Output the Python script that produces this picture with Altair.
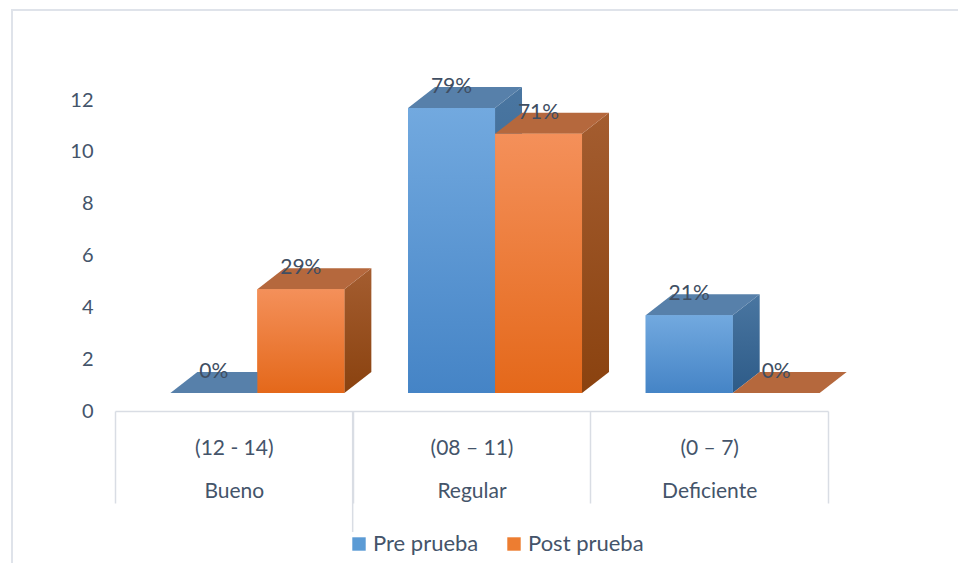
import altair as alt
import pandas as pd

# ---- data ----
categories = ["Bueno", "Regular", "Deficiente"]
ranges = ["(12 - 14)", "(08 – 11)", "(0 – 7)"]
series = ["Pre prueba", "Post prueba"]
pre_values = [0, 11, 3]
post_values = [4, 10, 0]
pre_labels = ["0%", "79%", "21%"]
post_labels = ["29%", "71%", "0%"]
y_ticks = [0, 2, 4, 6, 8, 10, 12]

# ---- 3D look (style constants, in scale units) ----
BAR_W = 0.366      # front face width
PRE_START = -0.267 # left edge of first bar relative to category index
DX = 0.1136        # depth shift to the right
DY = 0.81          # depth shift upwards

front_rows, top_rows, side_rows, label_rows = [], [], [], []
for s_idx, (s, vals, labs) in enumerate(zip(series, [pre_values, post_values], [pre_labels, post_labels])):
    for i, (c, v, lab) in enumerate(zip(categories, vals, labs)):
        x0 = i + PRE_START + s_idx * BAR_W
        x1 = x0 + BAR_W
        key = f"k{s_idx}{i}"
        front_rows.append(dict(series=s, cat=c, xl=x0, xr=x1, v=v, base=0))
        # top face as a vertical band: lower edge / upper edge along x
        top_rows += [
            dict(series=s, key=key, px=x0, hi=v, lo=v),
            dict(series=s, key=key, px=x0 + DX, hi=v + DY, lo=v),
            dict(series=s, key=key, px=x1, hi=v + DY, lo=v),
            dict(series=s, key=key, px=x1 + DX, hi=v + DY, lo=v + DY),
        ]
        side_rows += [
            dict(series=s, key=key, px=x1, hi=v, lo=0),
            dict(series=s, key=key, px=x1 + DX, hi=v + DY, lo=DY),
        ]
        label_rows.append(dict(series=s, lx=(x0 + x1) / 2, ly=v + DY, text=lab))

front = pd.DataFrame(front_rows)
top = pd.DataFrame(top_rows)
side = pd.DataFrame(side_rows)
labels = pd.DataFrame(label_rows)

xs = alt.Scale(domain=[-0.5, 2.5], nice=False, zero=False)
ys = alt.Scale(domain=[0, 12], nice=False, zero=False)

TEXT = "#44546a"
FONT = "Lato"
GRID = "#d9dde4"

# x axis: labels at category centres, dividers at boundaries
expr = "''"
for i in reversed(range(len(categories))):
    expr = f"datum.value == {i} ? ['{ranges[i]}', '{categories[i]}'] : " + expr

xaxis = alt.Axis(
    values=[-0.5, 0, 0.5, 1, 1.5, 2, 2.5],
    labelExpr=expr,
    title=None,
    grid=False,
    offset=18,
    domainColor=GRID,
    domainWidth=1.5,
    tickColor=GRID,
    tickWidth=1.5,
    tickSize=92,
    tickOpacity={"condition": {"test": "datum.value % 1 != 0", "value": 1}, "value": 0},
    labelPadding=-66,
    labelBaseline="top",
    labelLineHeight=43,
    labelFont=FONT,
    labelFontSize=21,
    labelColor=TEXT,
    labelOverlap=False,
    labelFlush=False,
)
yaxis = alt.Axis(
    values=y_ticks,
    title=None,
    grid=False,
    domain=False,
    ticks=False,
    labelPadding=22,
    labelOffset=18,
    labelFont=FONT,
    labelFontSize=20,
    labelColor=TEXT,
)


def grad(c_top, c_bot):
    return alt.LinearGradient(
        gradient="linear",
        stops=[alt.GradientStop(color=c_top, offset=0), alt.GradientStop(color=c_bot, offset=1)],
        x1=0, x2=0, y1=0, y2=1,
    )


styles = {
    "Pre prueba": dict(front=grad("#72a9df", "#4584c6"), top="#5780aa", side=grad("#4a76a1", "#2d5b88")),
    "Post prueba": dict(front=grad("#f4905a", "#e4681a"), top="#b5683d", side=grad("#a45d30", "#8a420f")),
}

# solid base layer carrying the legend (fully covered by the faces drawn after it)
legend_layer = alt.Chart(front).mark_rect().encode(
    x=alt.X("xl:Q", scale=xs, axis=xaxis),
    x2="xr:Q",
    y=alt.Y("v:Q", scale=ys, axis=yaxis),
    y2="base:Q",
    color=alt.Color(
        "series:N",
        scale=alt.Scale(domain=series, range=["#5b9bd5", "#ed7d31"]),
        legend=alt.Legend(
            title=None,
            orient="none",
            direction="horizontal",
            legendX=233,
            legendY=451,
            symbolType="square",
            symbolSize=180,
            symbolStrokeWidth=0,
            labelFont=FONT,
            labelFontSize=22,
            labelColor=TEXT,
            labelOffset=3,
            columnPadding=24,
            padding=0,
        ),
    ),
)

layers = [legend_layer]
for s in series:
    st = styles[s]
    side_l = alt.Chart(side[side.series == s]).mark_area(fill=st["side"], interpolate="linear").encode(
        x=alt.X("px:Q", scale=xs),
        y=alt.Y("hi:Q", scale=ys, stack=None),
        y2="lo:Q",
        detail="key:N",
    )
    top_l = alt.Chart(top[top.series == s]).mark_area(fill=st["top"], interpolate="linear").encode(
        x=alt.X("px:Q", scale=xs),
        y=alt.Y("hi:Q", scale=ys, stack=None),
        y2="lo:Q",
        detail="key:N",
    )
    front_l = alt.Chart(front[front.series == s]).mark_rect(fill=st["front"]).encode(
        x=alt.X("xl:Q", scale=xs),
        x2="xr:Q",
        y=alt.Y("v:Q", scale=ys),
        y2="base:Q",
    )
    layers += [side_l, top_l, front_l]

text_l = alt.Chart(labels).mark_text(
    font=FONT, fontSize=21, color="#404e62", align="center", baseline="middle"
).encode(
    x=alt.X("lx:Q", scale=xs),
    y=alt.Y("ly:Q", scale=ys),
    text="text:N",
)
layers.append(text_l)

# longer divider below the first/second category boundary (as in the reference)
long_divider = alt.Chart(pd.DataFrame({"a": [0]})).mark_rule(color=GRID, strokeWidth=1.5).encode(
    x=alt.datum(0.5), y=alt.value(329), y2=alt.value(450)
)
layers.append(long_divider)

# outer frame of the chart
frame = alt.Chart(pd.DataFrame({"a": [0]})).mark_rect(
    fill="transparent", stroke="#dfe3ea", strokeWidth=2
).encode(
    x=alt.value(-103), x2=alt.value(900), y=alt.value(-72), y2=alt.value(600)
)
layers.insert(0, frame)

chart = alt.layer(*layers).properties(
    width=713,
    height=311,
    autosize=alt.AutoSizeParams(type="none"),
    padding={"left": 107, "top": 74, "right": 130, "bottom": 170},
).configure_view(strokeWidth=0)

chart.save("out.html", embed_options={"renderer": "svg", "actions": False})
